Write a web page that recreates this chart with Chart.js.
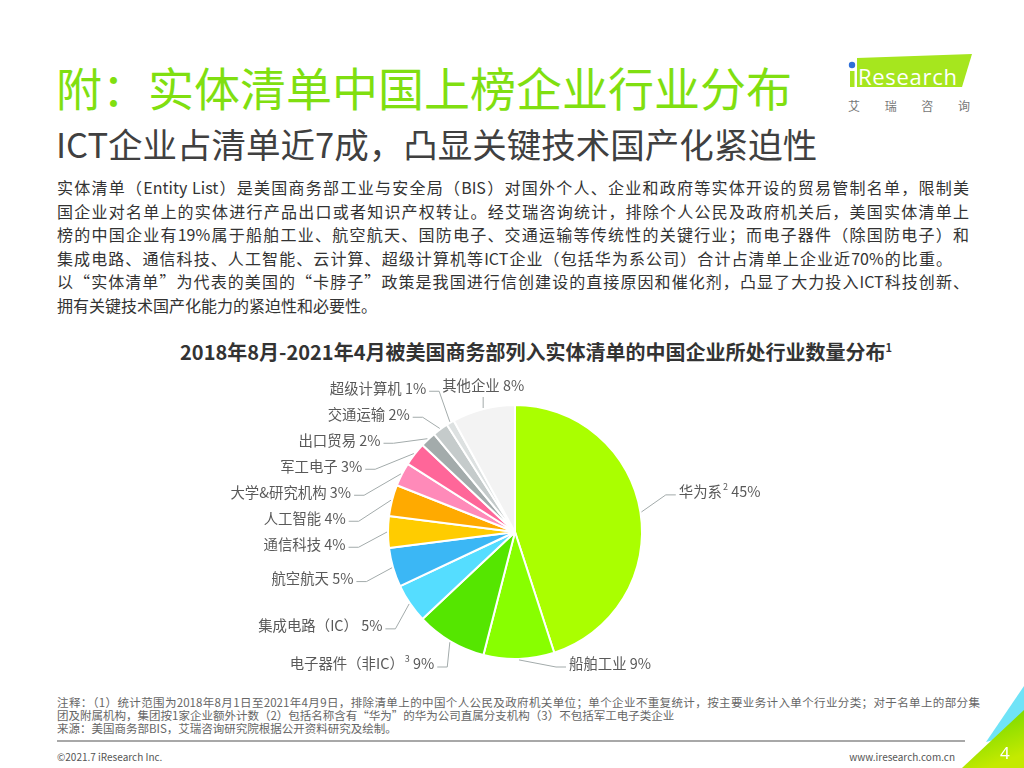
<!DOCTYPE html>
<html lang="zh-CN">
<head>
<meta charset="utf-8">
<title>实体清单中国上榜企业行业分布</title>
<script src="https://cdn.jsdelivr.net/npm/chart.js@4.4.0/dist/chart.umd.min.js"></script>
<style>
  html, body { margin: 0; padding: 0; background: #fff; }
  body { width: 1024px; height: 768px; position: relative; overflow: hidden;
         font-family: "Noto Sans CJK SC", "Noto Sans", sans-serif; }
  .title { position: absolute; left: 56px; top: 58px; font-size: 46px; line-height: 56px;
           color: #80df10; white-space: nowrap; }
  .subtitle { position: absolute; left: 56px; top: 121px; font-size: 34.5px; line-height: 44px;
              color: #404040; white-space: nowrap; }
  .para { position: absolute; left: 57px; top: 176px; width: 912px; font-size: 16px;
          line-height: 23.6px; color: #333; }
  .para div { text-align: justify; text-align-last: justify; }
  .para div.last { text-align: left; text-align-last: left; }
  .chart-title { position: absolute; left: 0; top: 333px; width: 1072px; text-align: center;
                 font-size: 20px; font-weight: bold; line-height: 28px; color: #333; white-space: nowrap; }
  .chart-title sup { font-size: 11px; }
  #chartBox { position: absolute; left: 0; top: 360px; width: 1024px; height: 330px; }
  .notes { position: absolute; left: 57px; top: 696px; font-size: 11.5px; line-height: 13px; color: #666; }
  .notes div { white-space: nowrap; }
  .notes div.full { width: 923px; text-align: justify; text-align-last: justify; }
  .rule { position: absolute; left: 57px; top: 740px; width: 908px; height: 2px; background: #a8a8a8; }
  .foot-l { position: absolute; left: 57px; top: 750px; font-size: 10px; line-height: 14px; color: #555; }
  .foot-r { position: absolute; right: 69px; top: 750px; font-size: 10px; line-height: 14px; color: #555; }
  svg { position: absolute; }
</style>
</head>
<body>
<div class="title">附：实体清单中国上榜企业行业分布</div>
<div class="subtitle">ICT企业占清单近7成，凸显关键技术国产化紧迫性</div>

<div class="para">
  <div>实体清单（Entity List）是美国商务部工业与安全局（BIS）对国外个人、企业和政府等实体开设的贸易管制名单，限制美</div>
  <div>国企业对名单上的实体进行产品出口或者知识产权转让。经艾瑞咨询统计，排除个人公民及政府机关后，美国实体清单上</div>
  <div>榜的中国企业有19%属于船舶工业、航空航天、国防电子、交通运输等传统性的关键行业；而电子器件（除国防电子）和</div>
  <div style="width:895px">集成电路、通信科技、人工智能、云计算、超级计算机等ICT企业（包括华为系公司）合计占清单上企业近70%的比重。</div>
  <div>以“实体清单”为代表的美国的“卡脖子”政策是我国进行信创建设的直接原因和催化剂，凸显了大力投入ICT科技创新、</div>
  <div class="last">拥有关键技术国产化能力的紧迫性和必要性。</div>
</div>

<div class="chart-title">2018年8月-2021年4月被美国商务部列入实体清单的中国企业所处行业数量分布<sup>1</sup></div>
<div id="chartBox"><canvas id="pieChart"></canvas></div>

<div class="notes">
  <div class="full">注释：（1）统计范围为2018年8月1日至2021年4月9日，排除清单上的中国个人公民及政府机关单位；单个企业不重复统计，按主要业务计入单个行业分类；对于名单上的部分集</div>
  <div>团及附属机构，集团按1家企业额外计数（2）包括名称含有“华为”的华为公司直属分支机构（3）不包括军工电子类企业</div>
  <div>来源：美国商务部BIS，艾瑞咨询研究院根据公开资料研究及绘制。</div>
</div>
<div class="rule"></div>
<div class="foot-l">©2021.7 iResearch Inc.</div>
<div class="foot-r">www.iresearch.com.cn</div>

<!-- logo -->
<svg style="left:840px; top:45px" width="140" height="75" viewBox="0 0 140 75">
  <polygon points="17,13 132,9 122,42 17,42" fill="#a6e61e"/>
  <rect x="10" y="26" width="4.5" height="16" fill="#a6e61e"/>
  <circle cx="12" cy="20" r="3.2" fill="#2e6fd8"/>
  <text x="18" y="40" font-family="Open Sans, sans-serif" font-size="22" fill="#fff" textLength="99">Research</text>
  <text x="8" y="66" font-family="Noto Sans CJK SC, sans-serif" font-size="12" fill="#777" textLength="122" lengthAdjust="spacing">艾瑞咨询</text>
</svg>

<!-- corner -->
<svg style="left:940px; top:680px" width="84" height="88" viewBox="0 0 84 88">
  <defs>
    <linearGradient id="gg" x1="0" y1="0" x2="0.4" y2="1">
      <stop offset="0" stop-color="#5fd400"/>
      <stop offset="1" stop-color="#c4ea00"/>
    </linearGradient>
  </defs>
  <polygon points="46,62 84,6 84,52" fill="#6fe3f7"/>
  <polygon points="22,88 84,30 84,88" fill="url(#gg)"/>
  <text x="60" y="79" font-family="Noto Sans, sans-serif" font-size="17" fill="#fff">4</text>
</svg>

<script>
// Industry distribution of listed Chinese companies (%)
const sliceNames = ['华为系', '船舶工业', '电子器件（非IC）', '集成电路（IC）', '航空航天', '通信科技',
                    '人工智能', '大学&研究机构', '军工电子', '出口贸易', '交通运输', '超级计算机', '其他企业'];
const superscripts = ['2', '', '3', '', '', '', '', '', '', '', '', '', ''];
const shares = [45, 9, 9, 5, 5, 4, 4, 3, 3, 2, 2, 1, 8];
const sliceColors = ['#aaff00', '#88ff00', '#55e600', '#55ddff', '#3bb7f5', '#ffcc00',
                     '#ffaa00', '#ff8ab9', '#ff6699', '#a3abab', '#c5cbcb', '#dde1e1', '#f3f3f3'];

const FONT = '"Noto Sans CJK SC", sans-serif';

// draws "name^sup pct%" and returns its horizontal extent
function drawLabel(ctx, i, x, y, align) {
    const name = sliceNames[i];
    const sup = superscripts[i];
    const pct = ' ' + shares[i] + '%';
    ctx.font = '14.4px ' + FONT;
    const w1 = ctx.measureText(name).width;
    const w3 = ctx.measureText(pct).width;
    ctx.font = '9px ' + FONT;
    const w2 = sup ? ctx.measureText(sup).width + 1 : 0;
    const total = w1 + w2 + w3;
    let sx = x;
    if (align === 'right') sx = x - total;
    if (align === 'center') sx = x - total / 2;
    ctx.textAlign = 'left';
    ctx.font = '14.4px ' + FONT;
    ctx.fillText(name, sx, y);
    if (sup) {
        ctx.font = '9px ' + FONT;
        ctx.fillText(sup, sx + w1 + 1, y - 5);
    }
    ctx.font = '14.4px ' + FONT;
    ctx.fillText(pct, sx + w1 + w2, y);
    return { left: sx, right: sx + total };
}

const leaderLabels = {
    id: 'leaderLabels',
    afterDraw(chart) {
        const ctx = chart.ctx;
        const arcs = chart.getDatasetMeta(0).data;
        const cx = arcs[0].x, cy = arcs[0].y, r = arcs[0].outerRadius;

        const items = arcs.map((arc, i) => {
            const mid = (arc.startAngle + arc.endAngle) / 2;
            const dx = Math.cos(mid), dy = Math.sin(mid);
            const side = -dy > 0.94 ? 'top' : (dx >= 0 ? 'right' : 'left');
            // right-hand labels sit a little higher than their slice
            const lift = side === 'right' ? 14 : 0;
            return {
                i, side,
                ex: cx + dx * (r + 1),
                ey: cy + dy * (r + 1),
                y: cy + dy * (r + 40) - lift
            };
        });

        ctx.save();
        ctx.strokeStyle = '#a3abab';
        ctx.lineWidth = 1;
        ctx.fillStyle = '#595959';
        ctx.textBaseline = 'middle';

        // labels straight above the pie
        const blocked = [];
        items.filter(it => it.side === 'top').forEach(it => {
            const ty = cy - r - 19;
            const box = drawLabel(ctx, it.i, it.ex, ty, 'center');
            ctx.beginPath();
            ctx.moveTo(it.ex, it.ey);
            ctx.lineTo(it.ex, ty + 11);
            ctx.stroke();
            blocked.push({ y: ty, left: box.left });
        });

        // side labels, pushed apart so they don't overlap
        ['left', 'right'].forEach(side => {
            const list = items.filter(it => it.side === side).sort((a, b) => a.y - b.y);
            for (let k = 1; k < list.length; k++) {
                list[k].y = Math.max(list[k].y, list[k - 1].y + 26);
            }
            list.forEach(it => {
                it.y = Math.min(it.y, cy + r + 5);
                const t = (it.y - cy) / (r + 23);
                const off = (r + 43) * Math.sqrt(Math.max(0, 1 - t * t));
                let tx = side === 'left' ? cx - off : cx + off;
                if (side === 'left') {
                    blocked.forEach(b => {
                        if (Math.abs(b.y - it.y) < 18) tx = Math.min(tx, b.left - 16);
                    });
                } else if (it.y >= cy + r) {
                    // bottom label: keep it close to its slice
                    tx = Math.min(tx, it.ex + 50);
                }
                const sgn = side === 'left' ? 1 : -1;
                drawLabel(ctx, it.i, tx, it.y, side === 'left' ? 'right' : 'left');
                const ly = it.y + 3;
                ctx.beginPath();
                ctx.moveTo(tx + sgn * 3, ly);
                ctx.lineTo(tx + sgn * 13, ly);
                ctx.lineTo(it.ex, it.ey);
                ctx.stroke();
            });
        });
        ctx.restore();
    }
};

new Chart(document.getElementById('pieChart').getContext('2d'), {
    type: 'pie',
    data: {
        labels: sliceNames,
        datasets: [{
            data: shares,
            backgroundColor: sliceColors,
            borderColor: '#ffffff',
            borderWidth: 2,
            hoverOffset: 0
        }]
    },
    options: {
        responsive: true,
        maintainAspectRatio: false,
        animation: false,
        layout: { padding: { left: 387, right: 381, top: 44, bottom: 30 } },
        plugins: {
            legend: { display: false },
            tooltip: { enabled: false }
        }
    },
    plugins: [leaderLabels]
});
</script>
</body>
</html>
